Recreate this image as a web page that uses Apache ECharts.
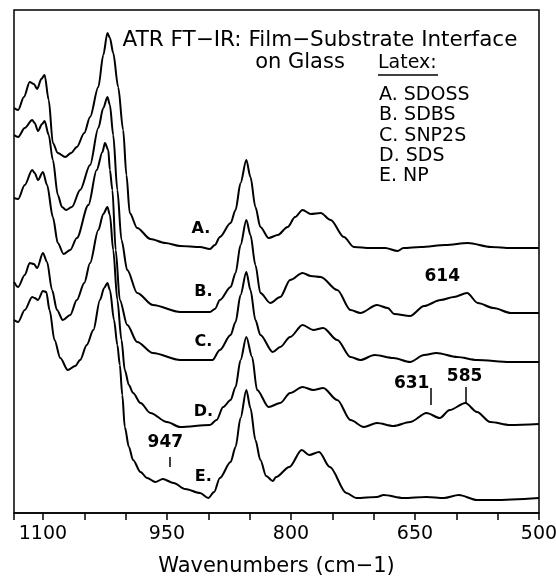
<!DOCTYPE html>
<html lang="en">
<head>
  <meta charset="UTF-8">
  <title>ATR FT-IR: Film-Substrate Interface on Glass</title>
  <script src="https://cdn.jsdelivr.net/npm/echarts@6/dist/echarts.min.js"></script>
  <style>
    html, body { margin: 0; padding: 0; background: #fff; }
    #main { width: 556px; height: 577px; }
  </style>
</head>
<body>
<div id="main"></div>
<script>
  // spectra: [wavenumber cm-1, absorbance (offset, arb. units)]
  var specA = [
    [1135,4.05],[1130,4.03],[1123,4.16],[1116,4.31],[1111,4.29],[1107,4.24],[1102,4.34],[1098,4.38],
    [1093,4.13],[1088,3.70],[1082,3.60],[1073,3.56],[1066,3.60],[1059,3.66],[1050,3.80],[1043,3.96],
    [1033,4.26],[1027,4.58],[1022,4.80],[1019,4.75],[1015,4.60],[1009,4.26],[1003,3.83],[999,3.38],
    [995,3.00],[986,2.85],[970,2.74],[952,2.70],[934,2.67],[910,2.66],[898,2.64],[892,2.68],
    [886,2.76],[873,2.90],[867,3.03],[861,3.30],[854,3.53],[849,3.36],[843,3.06],[837,2.86],
    [827,2.75],[816,2.78],[804,2.86],[795,2.96],[786,3.03],[776,2.99],[764,3.00],[752,2.93],
    [736,2.76],[724,2.66],[704,2.65],[686,2.65],[671,2.62],[664,2.65],[643,2.66],[613,2.68],
    [586,2.70],[558,2.66],[534,2.65],[500,2.65]
  ];
  var specB = [
    [1135,3.78],[1130,3.76],[1122,3.85],[1113,3.93],[1110,3.90],[1106,3.82],[1101,3.89],[1098,3.92],
    [1093,3.78],[1088,3.53],[1082,3.18],[1077,3.06],[1072,3.03],[1065,3.06],[1055,3.23],[1043,3.48],
    [1033,3.85],[1027,4.05],[1022,4.16],[1019,4.08],[1015,3.78],[1010,3.23],[1005,2.73],[998,2.43],
    [986,2.20],[967,2.08],[934,2.01],[898,2.01],[892,2.04],[886,2.13],[873,2.26],[867,2.40],
    [861,2.68],[854,2.93],[849,2.78],[843,2.48],[837,2.20],[825,2.10],[813,2.16],[801,2.33],
    [786,2.40],[776,2.37],[764,2.36],[744,2.23],[728,2.03],[716,2.00],[696,2.08],[683,2.05],
    [675,1.99],[656,1.97],[639,2.07],[619,2.13],[603,2.16],[587,2.20],[574,2.10],[555,2.05],
    [534,2.00],[500,2.00]
  ];
  var specC = [
    [1135,3.15],[1130,3.14],[1122,3.28],[1113,3.43],[1110,3.40],[1106,3.33],[1100,3.41],[1095,3.28],
    [1088,2.96],[1082,2.70],[1075,2.59],[1067,2.63],[1059,2.75],[1045,3.08],[1035,3.43],[1028,3.61],
    [1025,3.70],[1021,3.63],[1019,3.43],[1016,3.23],[1012,2.63],[1007,2.13],[998,1.88],[986,1.71],
    [967,1.60],[934,1.53],[895,1.53],[886,1.63],[873,1.78],[867,1.91],[861,2.18],[854,2.41],
    [849,2.23],[843,1.93],[837,1.78],[822,1.61],[813,1.66],[801,1.76],[786,1.88],[773,1.83],
    [761,1.85],[744,1.73],[728,1.56],[716,1.53],[699,1.58],[676,1.55],[656,1.51],[639,1.58],
    [624,1.60],[599,1.56],[575,1.53],[535,1.51],[500,1.51]
  ];
  var specD = [
    [1135,2.31],[1130,2.26],[1122,2.38],[1116,2.50],[1111,2.49],[1107,2.45],[1100,2.60],[1095,2.51],
    [1089,2.23],[1083,2.03],[1076,1.93],[1067,1.98],[1059,2.13],[1050,2.30],[1043,2.50],[1033,2.83],
    [1027,2.99],[1022,3.06],[1019,2.98],[1015,2.63],[1010,2.13],[1005,1.73],[1001,1.43],[996,1.28],
    [991,1.20],[982,1.10],[970,1.00],[950,0.91],[934,0.86],[898,0.88],[890,0.93],[882,1.06],
    [873,1.13],[867,1.26],[861,1.53],[854,1.76],[847,1.56],[841,1.23],[827,1.06],[813,1.10],
    [801,1.20],[786,1.26],[773,1.23],[761,1.25],[744,1.13],[728,0.93],[712,0.86],[696,0.90],
    [676,0.87],[656,0.91],[636,1.00],[620,0.95],[608,1.03],[589,1.10],[575,1.01],[559,0.91],
    [535,0.88],[500,0.89]
  ];
  var specE = [
    [1135,1.93],[1130,1.91],[1122,2.03],[1113,2.16],[1110,2.15],[1106,2.13],[1100,2.22],[1096,2.21],
    [1092,2.03],[1086,1.73],[1079,1.55],[1070,1.43],[1061,1.47],[1055,1.53],[1047,1.68],[1039,1.83],
    [1031,2.13],[1026,2.25],[1022,2.30],[1019,2.23],[1014,1.93],[1010,1.68],[1007,1.48],[1004,1.18],
    [1001,0.86],[996,0.66],[991,0.53],[982,0.41],[974,0.35],[964,0.31],[955,0.34],[942,0.30],
    [928,0.24],[910,0.20],[900,0.15],[893,0.21],[886,0.35],[873,0.51],[867,0.66],[861,0.95],
    [854,1.23],[849,1.05],[843,0.73],[837,0.53],[830,0.37],[822,0.32],[818,0.36],[802,0.46],
    [787,0.63],[778,0.58],[766,0.61],[753,0.46],[733,0.20],[721,0.15],[696,0.16],[688,0.18],
    [664,0.15],[636,0.16],[615,0.15],[597,0.18],[575,0.13],[555,0.13],[500,0.15]
  ];

  var shownTicks = [1100, 950, 800, 650, 500];
  // curve letters and band labels: [text, wavenumber, height]
  var curveTags = [['A.', 909, 2.84], ['B.', 906, 2.21], ['C.', 906, 1.71], ['D.', 906, 1.01], ['E.', 906, 0.36]];
  var bandTags = [['614', 617, 2.36], ['631', 654, 1.29], ['585', 590, 1.36], ['947', 952, 0.70]];
  // small vertical markers: [wavenumber, top, bottom]
  var bandTicks = [[947, 0.56, 0.46], [631, 1.25, 1.08], [588, 1.26, 1.10]];
  var legendRows = ['A. SDOSS', 'B. SDBS', 'C. SNP2S', 'D. SDS', 'E. NP'];

  var FONT = '"DejaVu Sans", "Liberation Sans", sans-serif';
  var chart = echarts.init(document.getElementById('main'));

  function spec(name, d) {
    return {
      name: name, type: 'line', data: d, showSymbol: false, smooth: 0.3,
      smoothMonotone: 'x', silent: true,
      lineStyle: { color: '#000', width: 2 }
    };
  }

  var graphics = [
    { type: 'text', style: { text: 'ATR FT\u2212IR: Film\u2212Substrate Interface', x: 320, y: 40,
        align: 'center', verticalAlign: 'middle', font: '21.5px ' + FONT, fill: '#000' } },
    { type: 'text', style: { text: 'on Glass', x: 300, y: 63, align: 'center', verticalAlign: 'middle',
        font: '21px ' + FONT, fill: '#000' } },
    { type: 'text', style: { text: 'Latex:', x: 378, y: 63, align: 'left', verticalAlign: 'middle',
        font: '19px ' + FONT, fill: '#000' } },
    { type: 'line', shape: { x1: 378, y1: 75, x2: 438, y2: 75 }, style: { stroke: '#000', lineWidth: 1.5 } }
  ];
  legendRows.forEach(function (t, i) {
    graphics.push({ type: 'text', style: { text: t, x: 379, y: 95 + 20.3 * i, align: 'left',
      verticalAlign: 'middle', font: '19px ' + FONT, fill: '#000' } });
  });

  function tag(t, size) {
    return {
      value: [t[1], t[2]], name: t[0],
      label: { show: true, position: 'inside', formatter: t[0], color: '#000', fontFamily: FONT,
        fontSize: size, fontWeight: 'bold' }
    };
  }
  var tagData = curveTags.map(function (t) { return tag(t, 16); })
    .concat(bandTags.map(function (t) { return tag(t, 17); }));

  chart.setOption({
    animation: false,
    grid: { left: 14, right: 17, top: 10, bottom: 64, show: true, borderColor: '#000', borderWidth: 1.5,
      outerBoundsMode: 'none' },
    xAxis: {
      type: 'value', inverse: true, min: 500, max: 1135, interval: 50,
      name: 'Wavenumbers (cm\u22121)', nameLocation: 'middle', nameGap: 43,
      nameTextStyle: { fontFamily: FONT, fontSize: 21, color: '#000' },
      axisLine: { lineStyle: { color: '#000', width: 1.5 } },
      axisTick: { length: 7, lineStyle: { color: '#000', width: 1.5 } },
      axisLabel: {
        margin: 12, color: '#000', fontFamily: FONT, fontSize: 19,
        formatter: function (v) { return shownTicks.indexOf(v) >= 0 ? String(v) : ''; }
      },
      splitLine: { show: false }
    },
    yAxis: { type: 'value', min: 0, max: 5.03, show: false },
    graphic: graphics,
    series: [
      spec('A', specA), spec('B', specB), spec('C', specC), spec('D', specD), spec('E', specE),
      {
        type: 'scatter', symbolSize: 0, silent: true, data: tagData,
        itemStyle: { color: '#000', opacity: 1 },
        label: { show: true, position: 'inside', color: '#000' },
        markLine: {
          silent: true, symbol: 'none', label: { show: false },
          lineStyle: { color: '#000', width: 1.5, type: 'solid', opacity: 1 },
          data: bandTicks.map(function (b) { return [{ coord: [b[0], b[1]] }, { coord: [b[0], b[2]] }]; })
        }
      }
    ]
  });
</script>
</body>
</html>
